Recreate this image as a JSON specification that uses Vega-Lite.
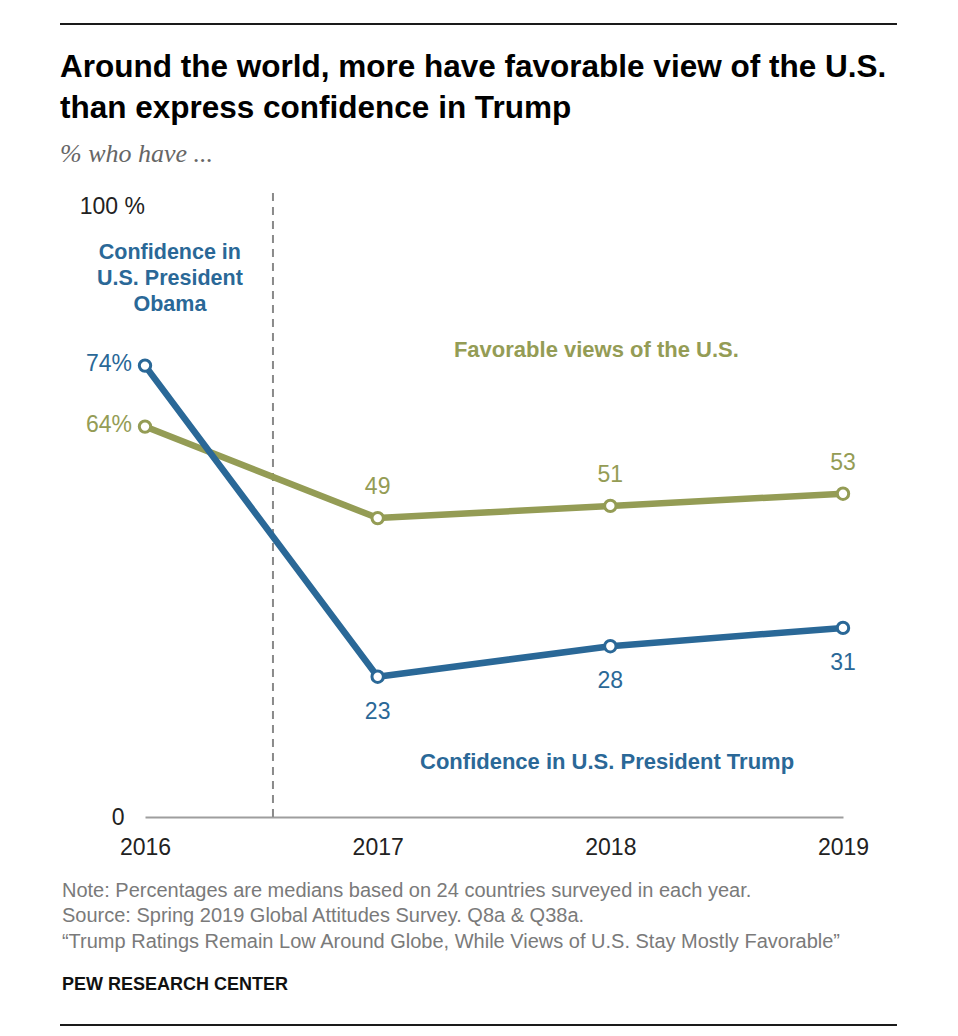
{
  "$schema": "https://vega.github.io/schema/vega-lite/v6.json",
  "width": 698,
  "height": 610,
  "autosize": {"type": "none"},
  "padding": {"left": 145, "top": 207, "right": 115, "bottom": 219},
  "background": "white",
  "config": {"view": {"stroke": null}, "font": "Liberation Sans"},
  "datasets": {
    "series": [
      {"series": "Favorable", "year": 2016, "value": 64, "label": "64%"},
      {"series": "Favorable", "year": 2017, "value": 49, "label": "49"},
      {"series": "Favorable", "year": 2018, "value": 51, "label": "51"},
      {"series": "Favorable", "year": 2019, "value": 53, "label": "53"},
      {"series": "Confidence", "year": 2016, "value": 74, "label": "74%"},
      {"series": "Confidence", "year": 2017, "value": 23, "label": "23"},
      {"series": "Confidence", "year": 2018, "value": 28, "label": "28"},
      {"series": "Confidence", "year": 2019, "value": 31, "label": "31"}
    ]
  },
  "layer": [
    {
      "data": {"values": [{}]},
      "mark": {"type": "rule", "color": "#1a1a1a", "strokeWidth": 1.8},
      "encoding": {
        "x": {"datum": 2015.6347, "type": "quantitative"},
        "x2": {"datum": 2019.232},
        "y": {"datum": 130.0, "type": "quantitative"}
      }
    },
    {
      "data": {"values": [{}]},
      "mark": {"type": "rule", "color": "#1a1a1a", "strokeWidth": 1.8},
      "encoding": {
        "x": {"datum": 2015.6347, "type": "quantitative"},
        "x2": {"datum": 2019.232},
        "y": {"datum": -34.1, "type": "quantitative"}
      }
    },
    {
      "data": {"values": [{}]},
      "mark": {"type": "rule", "color": "#8a8a8a", "strokeWidth": 2, "strokeDash": [8, 6]},
      "encoding": {
        "x": {"datum": 2016.55, "type": "quantitative"},
        "y": {"datum": 0, "type": "quantitative"},
        "y2": {"datum": 102.6}
      }
    },
    {
      "data": {"name": "series"},
      "mark": {"type": "line", "strokeWidth": 6.5, "strokeJoin": "round", "strokeCap": "butt"},
      "encoding": {
        "x": {
          "field": "year",
          "type": "quantitative",
          "scale": {"domain": [2016, 2019], "nice": false, "zero": false},
          "axis": {
            "title": null,
            "values": [2016, 2017, 2018, 2019],
            "format": "d",
            "grid": false,
            "ticks": false,
            "tickSize": 0,
            "labelPadding": 19,
            "labelFlush": false,
            "labelOverlap": false,
            "labelFont": "Liberation Sans",
            "labelFontSize": 23,
            "labelColor": "#222222",
            "domainColor": "#9e9e9e",
            "domainWidth": 2
          }
        },
        "y": {
          "field": "value",
          "type": "quantitative",
          "scale": {"domain": [0, 100], "nice": false, "zero": true},
          "axis": {
            "title": null,
            "values": [0],
            "grid": false,
            "ticks": false,
            "tickSize": 0,
            "domain": false,
            "labelPadding": 21,
            "labelFont": "Liberation Sans",
            "labelFontSize": 23,
            "labelColor": "#222222"
          }
        },
        "color": {
          "field": "series",
          "type": "nominal",
          "scale": {"domain": ["Favorable", "Confidence"], "range": ["#949c55", "#2a6897"]},
          "legend": null
        }
      }
    },
    {
      "data": {"name": "series"},
      "mark": {"type": "point", "shape": "circle", "filled": true, "fill": "white", "strokeWidth": 3, "size": 130, "opacity": 1},
      "encoding": {
        "x": {"field": "year", "type": "quantitative"},
        "y": {"field": "value", "type": "quantitative"},
        "stroke": {
          "field": "series",
          "type": "nominal",
          "scale": {"domain": ["Favorable", "Confidence"], "range": ["#949c55", "#2a6897"]},
          "legend": null
        }
      }
    },
    {
      "data": {"name": "series"},
      "transform": [{"filter": "datum.year == 2016"}],
      "mark": {"type": "text", "align": "right", "baseline": "middle", "dx": -13, "dy": -2, "fontSize": 23, "font": "Liberation Sans"},
      "encoding": {
        "x": {"field": "year", "type": "quantitative"},
        "y": {"field": "value", "type": "quantitative"},
        "text": {"field": "label"},
        "color": {"field": "series", "type": "nominal", "legend": null}
      }
    },
    {
      "data": {"name": "series"},
      "transform": [{"filter": "datum.year > 2016 && datum.series == 'Favorable'"}],
      "mark": {"type": "text", "align": "center", "baseline": "middle", "dy": -31, "fontSize": 23, "font": "Liberation Sans"},
      "encoding": {
        "x": {"field": "year", "type": "quantitative"},
        "y": {"field": "value", "type": "quantitative"},
        "text": {"field": "label"},
        "color": {"field": "series", "type": "nominal", "legend": null}
      }
    },
    {
      "data": {"name": "series"},
      "transform": [{"filter": "datum.year > 2016 && datum.series == 'Confidence'"}],
      "mark": {"type": "text", "align": "center", "baseline": "middle", "dy": 35, "fontSize": 23, "font": "Liberation Sans"},
      "encoding": {
        "x": {"field": "year", "type": "quantitative"},
        "y": {"field": "value", "type": "quantitative"},
        "text": {"field": "label"},
        "color": {"field": "series", "type": "nominal", "legend": null}
      }
    },
    {
      "data": {"values": [{}]},
      "mark": {"type": "text", "align": "right", "baseline": "middle", "fontSize": 23, "font": "Liberation Sans", "color": "#222222", "text": "100 %"},
      "encoding": {
        "x": {"datum": 2016, "type": "quantitative"},
        "y": {"datum": 100, "type": "quantitative"}
      }
    },
    {
      "data": {"values": [{}]},
      "mark": {
        "type": "text", "align": "left", "baseline": "alphabetic", "fontSize": 31.5, "fontWeight": "bold",
        "font": "Liberation Sans", "color": "#000000", "lineHeight": 41,
        "text": ["Around the world, more have favorable view of the U.S.", "than express confidence in Trump"]
      },
      "encoding": {
        "x": {"datum": 2015.6347, "type": "quantitative"},
        "y": {"datum": 121.31, "type": "quantitative"}
      }
    },
    {
      "data": {"values": [{}]},
      "mark": {
        "type": "text", "align": "left", "baseline": "alphabetic", "fontSize": 26, "fontStyle": "italic",
        "font": "Liberation Serif", "color": "#666666", "text": "% who have ..."
      },
      "encoding": {
        "x": {"datum": 2015.6347, "type": "quantitative"},
        "y": {"datum": 107.38, "type": "quantitative"}
      }
    },
    {
      "data": {"values": [{}]},
      "mark": {
        "type": "text", "align": "center", "baseline": "alphabetic", "fontSize": 21.5, "fontWeight": "bold",
        "font": "Liberation Sans", "color": "#2a6897", "lineHeight": 26,
        "text": ["Confidence in", "U.S. President", "Obama"]
      },
      "encoding": {
        "x": {"datum": 2016.107, "type": "quantitative"},
        "y": {"datum": 91.48, "type": "quantitative"}
      }
    },
    {
      "data": {"values": [{}]},
      "mark": {
        "type": "text", "align": "center", "baseline": "alphabetic", "fontSize": 22, "fontWeight": "bold",
        "font": "Liberation Sans", "color": "#949c55", "text": "Favorable views of the U.S."
      },
      "encoding": {
        "x": {"datum": 2017.94, "type": "quantitative"},
        "y": {"datum": 75.41, "type": "quantitative"}
      }
    },
    {
      "data": {"values": [{}]},
      "mark": {
        "type": "text", "align": "center", "baseline": "alphabetic", "fontSize": 22, "fontWeight": "bold",
        "font": "Liberation Sans", "color": "#2a6897", "text": "Confidence in U.S. President Trump"
      },
      "encoding": {
        "x": {"datum": 2017.986, "type": "quantitative"},
        "y": {"datum": 7.87, "type": "quantitative"}
      }
    },
    {
      "data": {"values": [{}]},
      "mark": {
        "type": "text", "align": "left", "baseline": "alphabetic", "fontSize": 20,
        "font": "Liberation Sans", "color": "#7a7a7a", "lineHeight": 25.5,
        "text": [
          "Note: Percentages are medians based on 24 countries surveyed in each year.",
          "Source: Spring 2019 Global Attitudes Survey. Q8a & Q38a.",
          "“Trump Ratings Remain Low Around Globe, While Views of U.S. Stay Mostly Favorable”"
        ]
      },
      "encoding": {
        "x": {"datum": 2015.643, "type": "quantitative"},
        "y": {"datum": -13.11, "type": "quantitative"}
      }
    },
    {
      "data": {"values": [{}]},
      "mark": {
        "type": "text", "align": "left", "baseline": "alphabetic", "fontSize": 18, "fontWeight": "bold",
        "font": "Liberation Sans", "color": "#111111", "text": "PEW RESEARCH CENTER"
      },
      "encoding": {
        "x": {"datum": 2015.643, "type": "quantitative"},
        "y": {"datum": -28.36, "type": "quantitative"}
      }
    }
  ]
}
